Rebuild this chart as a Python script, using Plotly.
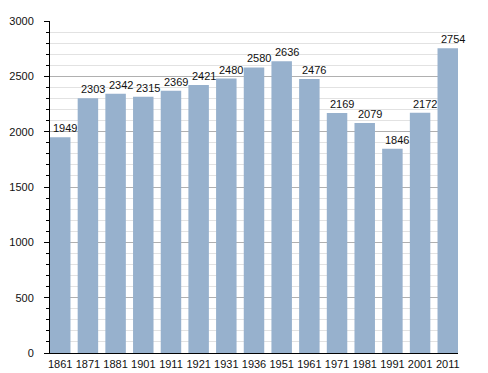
import plotly.graph_objects as go

years = ["1861", "1871", "1881", "1901", "1911", "1921", "1931", "1936",
         "1951", "1961", "1971", "1981", "1991", "2001", "2011"]
population = [1949, 2303, 2342, 2315, 2369, 2421, 2480, 2580,
              2636, 2476, 2169, 2079, 1846, 2172, 2754]

x_pos = list(range(len(years)))
FONT = "Liberation Sans, Arial, sans-serif"

fig = go.Figure(go.Bar(
    x=x_pos,
    y=population,
    width=0.74,
    marker=dict(color="#97b1cd", line=dict(width=0)),
    hoverinfo="x+y",
))

# value labels, slightly offset to the right as in the original
for xp, v in zip(x_pos, population):
    fig.add_annotation(
        x=xp, y=v, text=str(v), showarrow=False,
        xanchor="center", yanchor="bottom", xshift=5, yshift=1,
        font=dict(family=FONT, size=11, color="#111"),
    )

# page body adds an 8px margin, so the figure is 8px smaller and offset
fig.update_layout(
    width=480, height=365,
    margin=dict(l=42, r=30, t=13, b=20, autoexpand=False),
    paper_bgcolor="white", plot_bgcolor="white",
    showlegend=False,
    font=dict(family=FONT, size=11, color="#111"),
    xaxis=dict(
        range=[-0.37, len(years) - 1 + 0.37],
        tickmode="array", tickvals=x_pos, ticktext=years,
        showgrid=False, zeroline=False, automargin=False,
        showline=True, linecolor="#000", linewidth=1,
        ticks="", ticklabelstandoff=1,
    ),
    yaxis=dict(
        range=[0, 3000], tick0=0, dtick=500, automargin=False,
        showgrid=True, gridcolor="#b0b0b0", gridwidth=1,
        zeroline=False,
        showline=True, linecolor="#000", linewidth=1,
        ticks="outside", ticklen=5, tickcolor="#000",
        ticklabelstandoff=8,
        minor=dict(dtick=100, showgrid=True, gridcolor="#e2e2e2",
                   ticks="outside", ticklen=3, tickcolor="#000"),
    ),
)

fig.write_html("out.html")
